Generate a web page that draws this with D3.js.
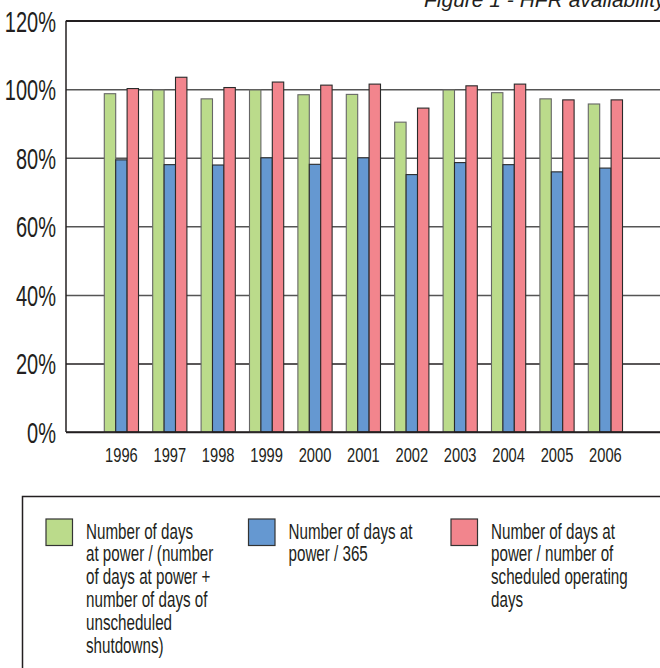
<!DOCTYPE html>
<html>
<head>
<meta charset="utf-8">
<script src="https://cdn.jsdelivr.net/npm/d3@7"></script>
<style>
  body { margin: 0; background: #fff; }
  text { font-family: "Liberation Sans", Arial, sans-serif; fill: #231f20; }
</style>
</head>
<body>
<div id="chart"></div>
<script>
// values (%)
var years = ["1996", "1997", "1998", "1999", "2000", "2001", "2002", "2003", "2004", "2005", "2006"];
var availShutdown = [98.7, 99.8, 97.2, 99.8, 98.4, 98.5, 90.4, 99.8, 99.0, 97.2, 95.7];
var avail365 = [79.4, 78.0, 77.9, 80.0, 78.1, 80.0, 75.1, 78.6, 78.0, 75.9, 77.0];
var availScheduled = [100.2, 103.5, 100.5, 102.1, 101.2, 101.5, 94.5, 101.0, 101.5, 96.9, 96.9];
var yTicks = [0, 20, 40, 60, 80, 100, 120];
var seriesNames = ["shutdown", "year", "scheduled"];
var seriesLabels = [
  ["Number of days", "at power / (number", "of days at power +", "number of days of", "unscheduled", "shutdowns)"],
  ["Number of days at", "power / 365"],
  ["Number of days at", "power / number of", "scheduled operating", "days"]
];
var titleText = "Figure 1 - HFR availability";

var svgWidth = 660;
var svgHeight = 668;

var plotLeft = 66, plotRight = 660, plotTop = 20.7, plotBottom = 432;

var colors = {shutdown: "#bbdb8b", year: "#6598d1", scheduled: "#f2858d"};
var strokes = {shutdown: "#666", year: "#2a2a2a", scheduled: "#2a2a2a"};

var svg = d3.select("#chart")
  .append("svg")
  .attr("width", svgWidth)
  .attr("height", svgHeight);

//scales
var x0 = d3.scaleBand()
  .domain(years)
  .range([97.2, 629.6])
  .paddingInner(0.293)
  .paddingOuter(0.1465);

var x1 = d3.scaleBand()
  .domain(seriesNames)
  .range([0, x0.bandwidth()]);

var yScale = d3.scaleLinear()
  .domain([0, 120])
  .range([plotBottom, plotTop]);

// gridlines + y labels
var yAxis = d3.axisLeft(yScale)
  .tickValues(yTicks)
  .tickSize(-(plotRight - plotLeft))
  .tickFormat(function(d) { return d + "%"; });

var yG = svg.append("g")
  .attr("transform", `translate(${plotLeft}, 0)`)
  .call(yAxis);

yG.select(".domain").remove();
yG.selectAll(".tick line")
  .attr("stroke", function(d) { return (d === 0 || d === 120 || d === 20) ? "#231f20" : "#555"; })
  .attr("stroke-width", 1.5);
yG.selectAll(".tick text")
  .attr("x", 0)
  .attr("dy", "0.36em")
  .attr("transform", "translate(-10,0) scale(0.69,1)")
  .style("font-size", "29px")
  .style("fill", "#231f20");

//bars
var values = {shutdown: availShutdown, year: avail365, scheduled: availScheduled};

var groups = svg.selectAll(".yearGroup")
  .data(years)
  .enter()
  .append("g")
  .attr("class", "yearGroup")
  .attr("transform", d => `translate(${x0(d)}, 0)`);

groups.selectAll("rect")
  .data(function(d, i) {
    return seriesNames.map(function(s) { return {key: s, value: values[s][i]}; });
  })
  .enter()
  .append("rect")
  .attr("x", d => x1(d.key))
  .attr("y", d => yScale(d.value))
  .attr("width", x1.bandwidth())
  .attr("height", d => plotBottom - yScale(d.value))
  .attr("fill", d => colors[d.key])
  .attr("stroke", d => strokes[d.key])
  .attr("stroke-width", 1.1);

// axis lines on top
svg.append("line")
  .attr("x1", plotLeft).attr("x2", plotLeft)
  .attr("y1", plotTop).attr("y2", plotBottom)
  .attr("stroke", "#231f20").attr("stroke-width", 1.5);

svg.append("line")
  .attr("x1", plotLeft).attr("x2", plotRight)
  .attr("y1", plotBottom).attr("y2", plotBottom)
  .attr("stroke", "#231f20").attr("stroke-width", 1.5);

// year labels
var xAxis = d3.axisBottom(x0).tickSize(0).tickPadding(0);
var xG = svg.append("g")
  .attr("transform", `translate(0, ${plotBottom})`)
  .call(xAxis);
xG.select(".domain").remove();
xG.selectAll(".tick text")
  .attr("y", 0)
  .attr("dy", 0)
  .attr("transform", "translate(0,30) scale(0.7,1)")
  .style("font-size", "21px")
  .style("fill", "#231f20");

// title, cut off at the top right like the source
svg.append("text")
  .attr("x", 424)
  .attr("y", 7)
  .style("font-style", "italic")
  .style("font-size", "21px")
  .text(titleText);

svg.append("line")
  .attr("x1", plotLeft).attr("x2", plotRight)
  .attr("y1", plotTop).attr("y2", plotTop)
  .attr("stroke", "#231f20").attr("stroke-width", 1.5);

// legend
svg.append("rect")
  .attr("x", 22.5)
  .attr("y", 496.5)
  .attr("width", 700)
  .attr("height", 200)
  .attr("fill", "none")
  .attr("stroke", "#231f20")
  .attr("stroke-width", 1.5);

var legendX = d3.scalePoint()
  .domain(seriesNames)
  .range([46, 451]);

var legend = svg.selectAll(".legendItem")
  .data(seriesNames)
  .enter()
  .append("g")
  .attr("class", "legendItem")
  .attr("transform", d => `translate(${legendX(d)}, 519)`);

legend.append("rect")
  .attr("width", 26.5)
  .attr("height", 26.5)
  .attr("fill", d => colors[d])
  .attr("stroke", "#333")
  .attr("stroke-width", 1.2);

legend.each(function(d, i) {
  var t = d3.select(this).append("text")
    .attr("transform", "translate(40,19.5) scale(0.69,1)")
    .style("font-size", "22px");
  t.selectAll("tspan")
    .data(seriesLabels[i])
    .enter()
    .append("tspan")
    .attr("x", 0)
    .attr("dy", (l, j) => j === 0 ? 0 : 23)
    .text(l => l);
});
</script>
</body>
</html>
